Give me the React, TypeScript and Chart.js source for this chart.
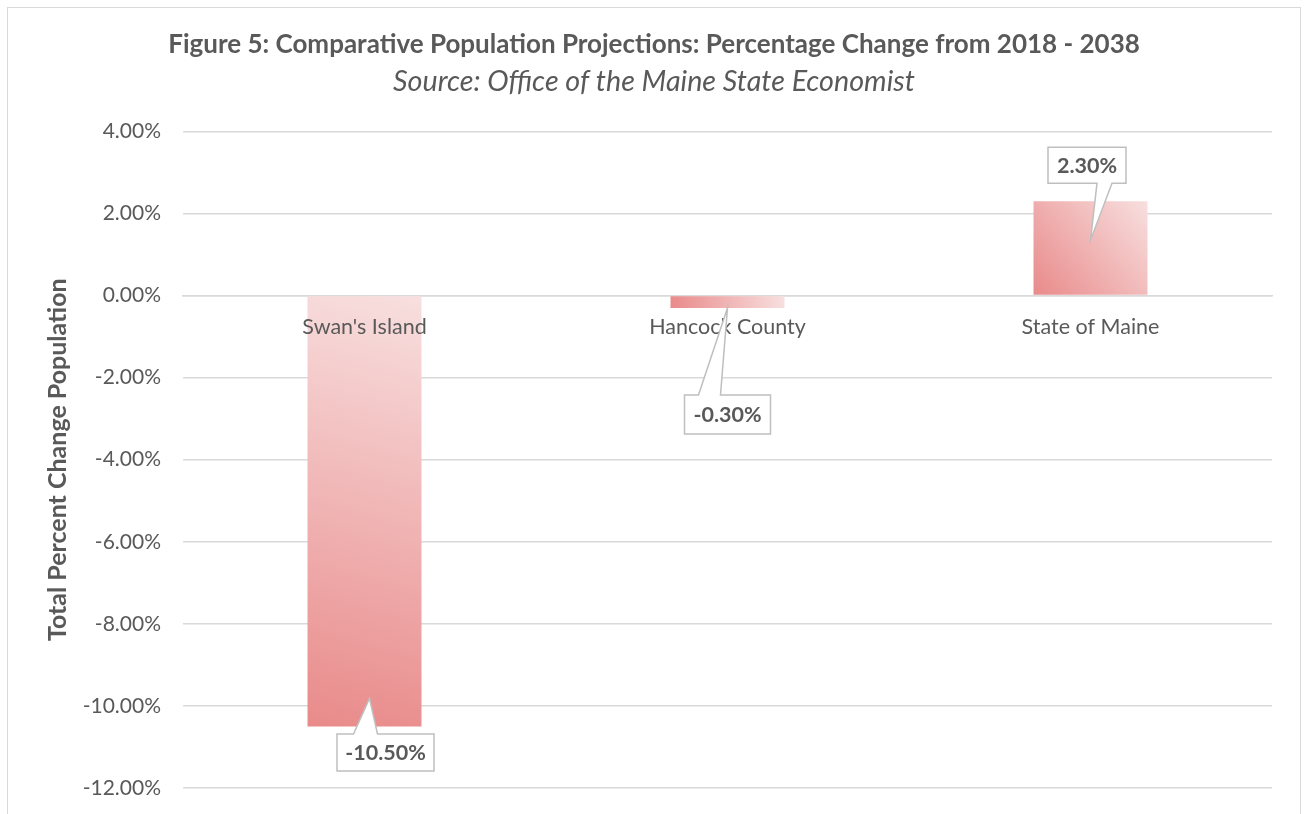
import React, { useEffect, useRef } from "react";
import { Chart, registerables } from "chart.js";

Chart.register(...registerables);

// ---- data ----
const categories = ["Swan's Island", "Hancock County", "State of Maine"];
const percentChange = [-10.5, -0.3, 2.3];
const yMin = -12;
const yMax = 4;
const yStep = 2;
const titleText = "Figure 5: Comparative Population Projections: Percentage Change from 2018 - 2038";
const subtitleText = "Source: Office of the Maine State Economist";
const yAxisTitle = "Total Percent Change Population";

// ---- style ----
const FONT = "Lato, 'Open Sans', 'Noto Sans', sans-serif";
const TEXT = "#595959";
const GRID = "#d9d9d9";
const DARK = "#e98a8a";
const LIGHT = "#f8dfdf";

// callout geometry relative to (bar centre x, bar end y)
const calloutStyle = [
  { box: [21, 26], size: [97, 37], tip: [5, -28], side: "top", base: [-32, -8] },
  { box: [0, 106.5], size: [86, 39], tip: [0, 0], side: "top", base: [-29, -7] },
  { box: [-3.5, -36], size: [78, 36], tip: [0, 39], side: "bottom", base: [10, 25] },
];

const gradientPlugin = {
  id: "barGradient",
  beforeDatasetsDraw(chart: any) {
    const ctx = chart.ctx;
    chart.getDatasetMeta(0).data.forEach((el: any) => {
      const { x, y, base, width } = el.getProps(["x", "y", "base", "width"], true);
      const left = x - width / 2;
      const right = x + width / 2;
      const top = Math.min(y, base);
      const bottom = Math.max(y, base);
      const g = ctx.createLinearGradient(left, bottom, right, top);
      g.addColorStop(0, DARK);
      g.addColorStop(1, LIGHT);
      el.options.backgroundColor = g;
    });
  },
};

const calloutPlugin = {
  id: "callouts",
  afterDraw(chart: any) {
    const ctx = chart.ctx;
    const ds = chart.data.datasets[0];
    chart.getDatasetMeta(0).data.forEach((el: any, i: number) => {
      const st = calloutStyle[i];
      if (!st) return;
      const { x, y } = el.getProps(["x", "y"], true);
      const cx = x + st.box[0];
      const cy = y + st.box[1];
      const w = st.size[0];
      const h = st.size[1];
      const l = cx - w / 2;
      const r = cx + w / 2;
      const t = cy - h / 2;
      const b = cy + h / 2;
      const tx = x + st.tip[0];
      const ty = y + st.tip[1];
      ctx.save();
      ctx.beginPath();
      if (st.side === "top") {
        ctx.moveTo(l, t);
        ctx.lineTo(cx + st.base[0], t);
        ctx.lineTo(tx, ty);
        ctx.lineTo(cx + st.base[1], t);
        ctx.lineTo(r, t);
        ctx.lineTo(r, b);
        ctx.lineTo(l, b);
      } else {
        ctx.moveTo(l, t);
        ctx.lineTo(r, t);
        ctx.lineTo(r, b);
        ctx.lineTo(cx + st.base[1], b);
        ctx.lineTo(tx, ty);
        ctx.lineTo(cx + st.base[0], b);
        ctx.lineTo(l, b);
      }
      ctx.closePath();
      ctx.fillStyle = "#ffffff";
      ctx.fill();
      ctx.lineWidth = 1.5;
      ctx.strokeStyle = "#bfbfbf";
      ctx.stroke();
      ctx.fillStyle = TEXT;
      ctx.font = `bold 21.5px ${FONT}`;
      ctx.textAlign = "center";
      ctx.textBaseline = "middle";
      ctx.fillText(`${Number(ds.data[i]).toFixed(2)}%`, cx, cy + 1);
      ctx.restore();
    });
  },
};

export default function App() {
  const ref = useRef<HTMLCanvasElement | null>(null);

  useEffect(() => {
    if (!ref.current) return;
    const chart = new Chart(ref.current, {
      type: "bar",
      data: {
        labels: categories,
        datasets: [
          {
            data: percentChange,
            backgroundColor: () => "#efb0b0",
            borderWidth: 0,
            barPercentage: 0.314,
            categoryPercentage: 1,
          },
        ],
      },
      options: {
        animation: false,
        responsive: false,
        devicePixelRatio: 1,
        layout: { padding: { left: 28, right: 28, top: 0, bottom: 48 } },
        plugins: {
          legend: { display: false },
          tooltip: { enabled: false },
          title: {
            display: true,
            text: titleText,
            color: TEXT,
            font: { family: FONT, size: 26, weight: "bold", lineHeight: 1.2 },
            padding: { top: 21.4, bottom: 3.6 },
          },
          subtitle: {
            display: true,
            text: subtitleText,
            color: TEXT,
            font: { family: FONT, size: 28.7, style: "italic", weight: "normal", lineHeight: 1.2 },
            padding: { top: 0, bottom: 32.8 },
          },
        },
        scales: {
          x: {
            position: { y: 0 } as any,
            grid: { display: false, drawTicks: false },
            border: { display: true, color: GRID, width: 1.5 },
            ticks: {
              z: 1,
              color: TEXT,
              font: { family: FONT, size: 21.5 },
              padding: 19,
            },
          },
          y: {
            min: yMin,
            max: yMax,
            grid: { color: GRID, lineWidth: 1.5, drawTicks: false },
            border: { display: false },
            ticks: {
              stepSize: yStep,
              color: TEXT,
              font: { family: FONT, size: 21 },
              padding: 22,
              callback: (v: any) => `${Number(v).toFixed(2)}%`,
            },
            title: {
              display: true,
              text: yAxisTitle,
              color: TEXT,
              font: { family: FONT, size: 25, weight: "bold", lineHeight: 1.2 },
              padding: { top: 6.5, bottom: 0 },
            },
            afterFit: (scale: any) => {
              scale.width = 147;
            },
          },
        },
      },
      plugins: [gradientPlugin, calloutPlugin],
    });
    return () => chart.destroy();
  }, []);

  return (
    <div
      style={{
        position: "absolute",
        left: 7,
        top: 7,
        width: 1294,
        height: 830,
        border: "1px solid #d9d9d9",
        boxSizing: "border-box",
        background: "#fff",
      }}
    >
      <canvas ref={ref} width={1292} height={828} style={{ display: "block" }} />
    </div>
  );
}
